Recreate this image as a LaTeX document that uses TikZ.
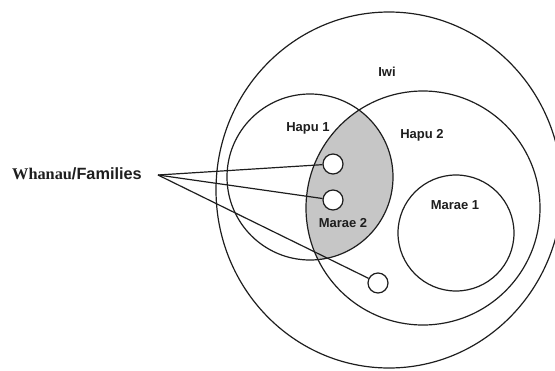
\documentclass[tikz,border=0pt]{standalone}
\usepackage{fontspec}
\setmainfont{Liberation Sans}
\newfontfamily\serifbold{Liberation Serif}
\usetikzlibrary{shapes.geometric}
\definecolor{lensgray}{RGB}{198,198,198}
\definecolor{inkc}{RGB}{30,30,30}
\begin{document}
\begin{tikzpicture}[x=1pt,y=-1pt,
  ring/.style={draw=inkc, line width=1.2pt, circle, inner sep=0pt},
  fam/.style={draw=inkc, line width=1.2pt, circle, inner sep=0pt, minimum size=20pt, fill=white},
  lbl/.style={font=\fontsize{13}{15}\selectfont\bfseries, text=inkc, inner sep=0pt},
  link/.style={draw=inkc, line width=1.2pt}]
\useasboundingbox (0,0) rectangle (555,370);
% shaded lens (Marae 2)
\begin{scope}
  \path[clip] (310,177) circle[radius=83pt];
  \fill[lensgray] (423,208) circle[radius=117pt];
\end{scope}
% circles
\node[draw=inkc, line width=1.2pt, ellipse, inner sep=0pt, minimum width=346pt, minimum height=356pt] (iwi) at (389,190) {};
\node[ring, minimum size=166pt] (hapu1) at (310,177) {};
\node[ring, minimum size=234pt] (hapu2) at (423,208) {};
\node[ring, minimum size=116pt] (marae1) at (456,233) {};
% labels
\node[lbl] (tiwi) at (387,72) {Iwi};
\node[lbl] (thapu1) at (308,128) {Hapu 1};
\node[lbl] (thapu2) at (422,135) {Hapu 2};
\node[lbl] (tmarae2) at (343,223) {Marae 2};
\node[lbl] (tmarae1) at (455,205) {Marae 1};
% families label
\node[anchor=west, inner sep=0pt, text=inkc, font=\fontsize{16.3}{18}\selectfont\bfseries] (whanau) at (12,174) {{\serifbold Whanau}/Families};
\coordinate (hub) at (158,175);
% family circles
\node[fam] (f1) at (333,164) {};
\node[fam] (f2) at (333,200) {};
\node[fam] (f3) at (378,283) {};
% connectors
\draw[link] (hub) -- (f1);
\draw[link] (hub) -- (f2);
\draw[link] (hub) -- (f3);
\end{tikzpicture}
\end{document}
